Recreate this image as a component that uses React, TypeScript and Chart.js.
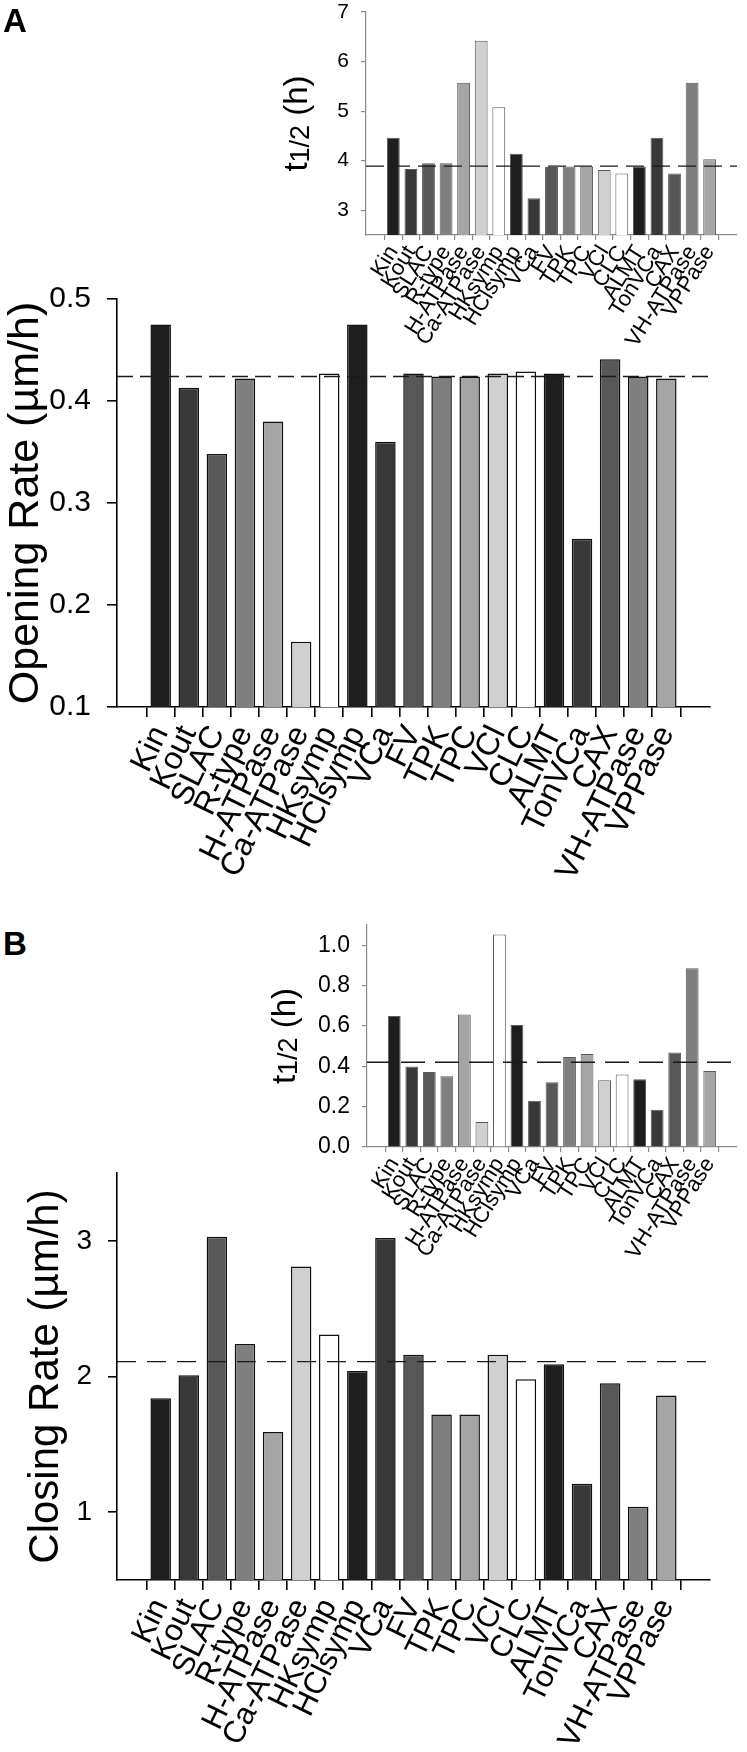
import React, { useEffect, useRef } from 'react';
import { Chart, registerables } from 'chart.js';

Chart.register(...registerables);

const categories = ['Kin', 'Kout', 'SLAC', 'R-type', 'H-ATPase', 'Ca-ATPase', 'HKsymp', 'HClsymp', 'VCa', 'FV', 'TPK', 'TPC', 'VCl', 'CLC', 'ALMT', 'TonVCa', 'CAX', 'VH-ATPase', 'VPPase'];
const barFills = ['#1e1e1e', '#383838', '#575757', '#7f7f7f', '#a5a5a5', '#d0d0d0', '#ffffff'];

const openingRate = [0.475, 0.413, 0.348, 0.422, 0.380, 0.164, 0.427, 0.475, 0.360, 0.427, 0.424, 0.424, 0.427, 0.429, 0.427, 0.265, 0.441, 0.424, 0.422];
const openingMean = 0.424;
const openingTicks = [0.1, 0.2, 0.3, 0.4, 0.5];

const openingHalfTime = [4.46, 3.83, 3.95, 3.95, 5.57, 6.42, 5.08, 4.14, 3.24, 3.87, 3.88, 3.88, 3.81, 3.74, 3.88, 4.46, 3.74, 5.57, 4.03];
const openingHalfMean = 3.89;
const openingHalfTicks = [3, 4, 5, 6, 7];

const closingRate = [1.84, 2.01, 3.03, 2.24, 1.59, 2.81, 2.31, 2.04, 3.02, 2.16, 1.72, 1.72, 2.16, 1.98, 2.09, 1.21, 1.95, 1.04, 1.86];
const closingMean = 2.11;
const closingTicks = [1, 2, 3];

const closingHalfTime = [0.649, 0.399, 0.372, 0.351, 0.657, 0.124, 1.053, 0.605, 0.229, 0.321, 0.446, 0.461, 0.331, 0.359, 0.336, 0.185, 0.468, 0.886, 0.376];
const closingHalfMean = 0.42;
const closingHalfTicks = [0, 0.2, 0.4, 0.6, 0.8, 1.0];

const FAMILY = '"Liberation Sans", Arial, Helvetica, sans-serif';

const meanLinePlugin = {
  id: 'meanLine',
  afterDatasetsDraw(chart: any, _args: any, opts: any) {
    const { ctx, chartArea } = chart;
    const y = chart.scales.y.getPixelForValue(opts.value);
    ctx.save();
    ctx.strokeStyle = opts.color;
    ctx.lineWidth = opts.width;
    ctx.setLineDash(opts.dash);
    ctx.beginPath();
    ctx.moveTo(chartArea.left, y);
    ctx.lineTo(chartArea.right, y);
    ctx.stroke();
    ctx.restore();
  },
};

const halfTitlePlugin = {
  id: 'halfTitle',
  afterDraw(chart: any, _args: any, opts: any) {
    if (!opts || !opts.show) return;
    const { ctx, chartArea } = chart;
    const cy = (chartArea.top + chartArea.bottom) / 2;
    const big = `${opts.size}px ${FAMILY}`;
    const small = `${opts.subSize}px ${FAMILY}`;
    ctx.save();
    ctx.translate(opts.x, cy);
    ctx.rotate(-Math.PI / 2);
    ctx.fillStyle = '#000';
    ctx.textBaseline = 'middle';
    ctx.textAlign = 'left';
    ctx.font = big;
    const wT = ctx.measureText('t').width;
    const wH = ctx.measureText(' (h)').width;
    ctx.font = small;
    const wS = ctx.measureText('1/2').width;
    let x = -(wT + wS + wH) / 2;
    ctx.font = big;
    ctx.fillText('t', x, 0);
    x += wT;
    ctx.font = small;
    ctx.fillText('1/2', x, opts.subShift);
    x += wS;
    ctx.font = big;
    ctx.fillText(' (h)', x, 0);
    ctx.restore();
  },
};

type PanelCfg = {
  values: number[];
  mean: number;
  yMin: number;
  yMax: number;
  yTicks: number[];
  fmt: (v: number) => string;
  padTop: number;
  padRight: number;
  yAxisW: number;
  xAxisH: number;
  inset: boolean;
  tickSize: number;
  tickPad: number;
  yTickLen: number;
  xTickLen: number;
  labelSize: number;
  rotation: number;
  xPad: number;
  title?: string;
  titleSize?: number;
  titlePad?: number;
  halfTitleX?: number;
  dash: number[];
};

function buildConfig(c: PanelCfg): any {
  const axisColor = c.inset ? '#8a8a8a' : '#000000';
  const axisWidth = c.inset ? 1.2 : 1.6;
  return {
    type: 'bar',
    data: {
      datasets: [
        {
          data: c.values.map((v, i) => ({ x: i, y: v })),
          backgroundColor: c.values.map((_, i) => barFills[i % barFills.length]),
          borderColor: c.inset ? '#5a5a5a' : '#111111',
          borderWidth: c.inset ? 1 : 1.5,
          barPercentage: 0.73,
          categoryPercentage: 1,
        },
      ],
    },
    plugins: [meanLinePlugin, halfTitlePlugin],
    options: {
      responsive: false,
      animation: false,
      layout: { padding: { top: c.padTop, right: c.padRight, left: 0, bottom: 0 } },
      plugins: {
        legend: { display: false },
        tooltip: { enabled: false },
        meanLine: { value: c.mean, color: '#1a1a1a', width: 1.4, dash: c.dash },
        halfTitle: c.halfTitleX !== undefined
          ? { show: true, x: c.halfTitleX, size: 33, subSize: 27, subShift: 4 }
          : { show: false },
      },
      scales: {
        x: {
          type: 'linear',
          min: -1,
          max: 19,
          afterBuildTicks: (s: any) => {
            s.ticks = categories.map((_, i) => ({ value: i }));
          },
          afterFit: (s: any) => {
            s.height = c.xAxisH;
            s.paddingLeft = 0;
            s.paddingRight = 0;
          },
          ticks: {
            autoSkip: false,
            maxRotation: c.rotation,
            minRotation: c.rotation,
            padding: c.xPad,
            color: '#000',
            font: { family: FAMILY, size: c.labelSize },
            callback: (v: any) => categories[v] ?? '',
          },
          grid: {
            display: true,
            drawOnChartArea: false,
            drawTicks: true,
            tickLength: c.xTickLen,
            color: axisColor,
            lineWidth: axisWidth,
          },
          border: { display: true, color: axisColor, width: axisWidth },
        },
        y: {
          type: 'linear',
          min: c.yMin,
          max: c.yMax,
          afterBuildTicks: (s: any) => {
            s.ticks = c.yTicks.map((v) => ({ value: v }));
          },
          afterFit: (s: any) => {
            s.width = c.yAxisW;
            s.paddingTop = 0;
            s.paddingBottom = 0;
          },
          ticks: {
            padding: c.tickPad,
            color: '#000',
            font: { family: FAMILY, size: c.tickSize },
            callback: (v: any) => c.fmt(Number(v)),
          },
          grid: {
            display: true,
            drawOnChartArea: false,
            drawTicks: true,
            tickLength: c.yTickLen,
            color: axisColor,
            lineWidth: axisWidth,
          },
          border: { display: true, color: axisColor, width: axisWidth },
          title: c.title
            ? {
                display: true,
                text: c.title,
                color: '#000',
                font: { family: FAMILY, size: c.titleSize },
                padding: { top: c.titlePad ?? 0, bottom: 0 },
              }
            : { display: false },
        },
      },
    },
  };
}

function Panel({ cfg, left, top, width, height }: { cfg: PanelCfg; left: number; top: number; width: number; height: number }) {
  const ref = useRef<HTMLCanvasElement | null>(null);
  useEffect(() => {
    if (!ref.current) return;
    const chart = new Chart(ref.current, buildConfig(cfg));
    return () => chart.destroy();
  }, []);
  return (
    <canvas
      ref={ref}
      width={width}
      height={height}
      style={{ position: 'absolute', left, top, width, height }}
    />
  );
}

const mainA: PanelCfg = {
  values: openingRate, mean: openingMean, yMin: 0.1, yMax: 0.5, yTicks: openingTicks,
  fmt: (v) => v.toFixed(1), padTop: 299, padRight: 37, yAxisW: 117, xAxisH: 193,
  inset: false, tickSize: 30, tickPad: 16, yTickLen: 10, xTickLen: 10, labelSize: 32, rotation: 64, xPad: 3,
  title: 'Opening Rate (µm/h)', titleSize: 43, titlePad: 0, dash: [16, 7],
};

const insetA: PanelCfg = {
  values: openingHalfTime, mean: openingHalfMean, yMin: 2.5, yMax: 7, yTicks: openingHalfTicks,
  fmt: (v) => String(Math.round(v)), padTop: 12, padRight: 10, yAxisW: 126, xAxisH: 125,
  inset: true, tickSize: 21, tickPad: 12, yTickLen: 5, xTickLen: 5, labelSize: 22, rotation: 58, xPad: 1,
  halfTitleX: 58, dash: [18, 8],
};

const mainB: PanelCfg = {
  values: closingRate, mean: closingMean, yMin: 0.5, yMax: 3.5, yTicks: closingTicks,
  fmt: (v) => String(Math.round(v)), padTop: 173, padRight: 37, yAxisW: 117, xAxisH: 172,
  inset: false, tickSize: 28, tickPad: 16, yTickLen: 9, xTickLen: 10, labelSize: 31, rotation: 64, xPad: 3,
  title: 'Closing Rate (µm/h)', titleSize: 42, titlePad: 21, dash: [19, 11],
};

const insetB: PanelCfg = {
  values: closingHalfTime, mean: closingHalfMean, yMin: 0, yMax: 1.1, yTicks: closingHalfTicks,
  fmt: (v) => v.toFixed(1), padTop: 25, padRight: 10, yAxisW: 127, xAxisH: 123,
  inset: true, tickSize: 23, tickPad: 12, yTickLen: 5, xTickLen: 5, labelSize: 22, rotation: 58, xPad: 1,
  halfTitleX: 46, dash: [24, 10],
};

const letterStyle: React.CSSProperties = {
  position: 'absolute',
  fontFamily: FAMILY,
  fontWeight: 'bold',
  fontSize: 33,
  lineHeight: '1',
  color: '#000',
};

export default function App() {
  return (
    <div style={{ position: 'absolute', left: 0, top: 0, width: 747, height: 1752, background: '#fff', overflow: 'hidden' }}>
      <Panel cfg={mainA} left={0} top={0} width={747} height={900} />
      <Panel cfg={mainB} left={0} top={1000} width={747} height={752} />
      <Panel cfg={insetA} left={240} top={0} width={507} height={360} />
      <Panel cfg={insetB} left={240} top={900} width={507} height={370} />
      <div style={{ ...letterStyle, left: 3, top: 4 }}>A</div>
      <div style={{ ...letterStyle, left: 3, top: 927 }}>B</div>
    </div>
  );
}
